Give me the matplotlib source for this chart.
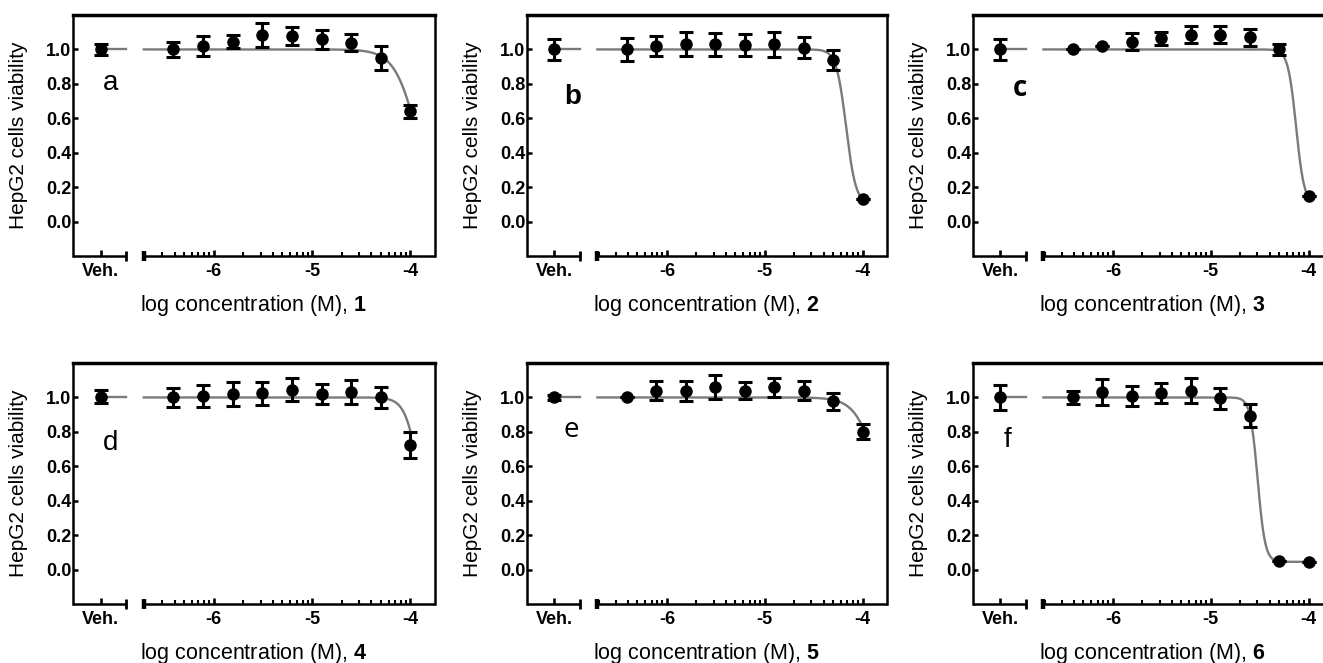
import numpy as np
import matplotlib
matplotlib.use("Agg")
import matplotlib.pyplot as plt
from matplotlib.ticker import FormatStrFormatter

plt.rcParams['font.family'] = ['Liberation Sans', 'DejaVu Sans']
plt.rcParams['mathtext.fontset'] = 'custom'
plt.rcParams['mathtext.rm'] = 'Liberation Sans'
plt.rcParams['mathtext.bf'] = 'Liberation Sans:bold'

# ---------------- data ----------------
conc_uM = [0.39, 0.78, 1.56, 3.125, 6.25, 12.5, 25, 50, 100]
panel_letters = ['a', 'b', 'c', 'd', 'e', 'f']
compound_ids = ['1', '2', '3', '4', '5', '6']
xtick_labels = ['Veh.', '-6', '-5', '-4']
ytick_values = [0.0, 0.2, 0.4, 0.6, 0.8, 1.0]

veh_mean = [1.00, 1.00, 1.00, 1.005, 1.00, 1.00]
veh_sem = [0.032, 0.063, 0.06, 0.04, 0.015, 0.075]

mean_a = [1.00, 1.02, 1.045, 1.085, 1.077, 1.06, 1.04, 0.95, 0.64]
sem_a = [0.045, 0.06, 0.037, 0.07, 0.053, 0.055, 0.05, 0.072, 0.04]
mean_b = [1.00, 1.02, 1.03, 1.03, 1.025, 1.03, 1.01, 0.94, 0.13]
sem_b = [0.067, 0.06, 0.07, 0.068, 0.065, 0.072, 0.062, 0.058, 0.0]
mean_c = [1.00, 1.02, 1.045, 1.065, 1.085, 1.085, 1.07, 1.00, 0.15]
sem_c = [0.0, 0.0, 0.05, 0.037, 0.05, 0.05, 0.048, 0.03, 0.0]
mean_d = [1.00, 1.01, 1.02, 1.025, 1.045, 1.02, 1.03, 1.00, 0.725]
sem_d = [0.055, 0.065, 0.067, 0.067, 0.065, 0.058, 0.07, 0.063, 0.076]
mean_e = [1.00, 1.04, 1.04, 1.06, 1.04, 1.06, 1.04, 0.977, 0.80]
sem_e = [0.0, 0.053, 0.058, 0.07, 0.05, 0.055, 0.053, 0.048, 0.043]
mean_f = [1.00, 1.03, 1.01, 1.025, 1.04, 0.995, 0.895, 0.052, 0.045]
sem_f = [0.038, 0.075, 0.058, 0.058, 0.073, 0.06, 0.065, 0.0, 0.0]

# fitted dose-response parameters: top, bottom, logIC50, hill slope
fit_a = [1.0, 0.0, -3.927, 3.7]
fit_b = [1.0, 0.1, -4.168, 8.7]
fit_c = [1.0, 0.1, -4.127, 10.4]
fit_d = [1.0, 0.0, -3.90, 6.1]
fit_e = [1.0, 0.0, -3.82, 3.8]
fit_f = [1.0, 0.045, -4.52, 11.4]

means = [mean_a, mean_b, mean_c, mean_d, mean_e, mean_f]
sems = [sem_a, sem_b, sem_c, sem_d, sem_e, sem_f]
fits = [fit_a, fit_b, fit_c, fit_d, fit_e, fit_f]

# ---------------- layout ----------------
W, H = 1323, 663
fig = plt.figure(figsize=(W / 100, H / 100), dpi=100)

col_left = [73, 527, 973]
col_width = [362, 360, 360]
row_top = [15, 363]
ax_h = 241

XMIN, XMAX = -7.43, -3.75
VEH_X = -7.15
VEH_END = -6.89
SEG_START = -6.71
YMIN, YMAX = -0.2, 1.2

letter_pos = [(0.105, 0.718), (0.126, 0.661), (0.131, 0.696),
              (0.105, 0.667), (0.122, 0.722), (0.096, 0.680)]
letter_font = [('Liberation Sans', 'normal'), ('Liberation Sans', 'bold'),
               ('Open Sans', 'bold'), ('Liberation Sans', 'normal'),
               ('Open Sans', 'normal'), ('Liberation Sans', 'normal')]

logc = np.log10(np.array(conc_uM) * 1e-6)
minor_pos = [np.log10(k * 10.0 ** e) for e in (-7, -6, -5) for k in range(2, 10)]
minor_pos = [m for m in minor_pos if SEG_START - 0.01 <= m <= -4.0]

curve_color = '#7a7a7a'

for i in range(6):
    r, c = divmod(i, 3)
    rect = [col_left[c] / W, (H - row_top[r] - ax_h) / H, col_width[c] / W, ax_h / H]
    ax = fig.add_axes(rect)
    ax.set_xlim(XMIN, XMAX)
    ax.set_ylim(YMIN, YMAX)

    top, bot, lic, hill = fits[i]
    xs = np.linspace(SEG_START, logc[-1], 400)
    ys = bot + (top - bot) / (1 + 10 ** ((xs - lic) * hill))
    ax.plot(xs, ys, color=curve_color, lw=1.7, zorder=2)
    ax.plot([VEH_X, VEH_END], [top, top], color=curve_color, lw=1.7, zorder=2)

    ax.errorbar(logc, means[i], yerr=sems[i], fmt='o', color='black', ms=8,
                elinewidth=2.2, capsize=5.0, capthick=2.2, zorder=3)
    ax.errorbar([VEH_X], [veh_mean[i]], yerr=[veh_sem[i]], fmt='o', color='black',
                ms=8, elinewidth=2.2, capsize=5.0, capthick=2.2, zorder=3)

    # spines
    ax.spines['bottom'].set_visible(False)
    ax.spines['top'].set_linewidth(2.5)
    ax.spines['left'].set_linewidth(1.8)
    ax.spines['right'].set_linewidth(1.8)
    tr = ax.get_xaxis_transform()
    ax.plot([XMIN, VEH_END], [0, 0], transform=tr, color='black', lw=1.8,
            clip_on=False, solid_capstyle='butt', zorder=4)
    ax.plot([SEG_START, XMAX], [0, 0], transform=tr, color='black', lw=1.8,
            clip_on=False, solid_capstyle='butt', zorder=4)
    ax.plot([VEH_END], [0], transform=tr, marker='|', ms=7, mew=2.0,
            color='black', clip_on=False, zorder=4)
    ax.plot([SEG_START], [0], transform=tr, marker='|', ms=7, mew=3.2,
            color='black', clip_on=False, zorder=4)

    # ticks
    ax.set_xticks([VEH_X, -6, -5, -4])
    ax.set_xticklabels(xtick_labels)
    ax.set_xticks(minor_pos, minor=True)
    ax.set_yticks(ytick_values)
    ax.yaxis.set_major_formatter(FormatStrFormatter('%.1f'))
    ax.tick_params(axis='x', which='major', direction='in', length=4.5, width=1.9,
                   pad=5.0, labelsize=13)
    ax.tick_params(axis='x', which='minor', direction='in', length=3.0, width=1.5)
    ax.tick_params(axis='y', which='major', direction='in', length=3.5, width=1.8,
                   pad=1.0, labelsize=13)
    for lbl in ax.get_xticklabels() + ax.get_yticklabels():
        lbl.set_fontweight('bold')

    ax.set_ylabel('HepG2 cells viability', fontsize=15, va='center')
    ax.yaxis.set_label_coords(-54 / col_width[c], 0.5)
    ax.set_xlabel(r'log concentration (M), $\mathbf{' + compound_ids[i] + '}$',
                  fontsize=15.5, va='center')
    ax.xaxis.set_label_coords(0.5, -49 / ax_h)

    fam, wt = letter_font[i]
    ax.text(letter_pos[i][0], letter_pos[i][1], panel_letters[i],
            transform=ax.transAxes, fontsize=20, family=[fam, 'DejaVu Sans'],
            fontweight=wt, ha='center', va='center')

fig.savefig('out.png', dpi=100)
